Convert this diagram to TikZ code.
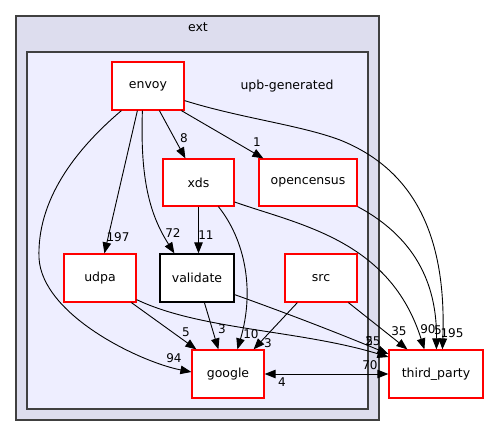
\documentclass[tikz,border=0pt]{standalone}
\usepackage{fontspec}
\setmainfont{DejaVu Sans}
\usetikzlibrary{arrows.meta,calc}
\definecolor{outerfill}{HTML}{DDDDEE}
\definecolor{innerfill}{HTML}{EEEEFF}
\definecolor{clusterline}{HTML}{404040}
\definecolor{nodered}{HTML}{FF0000}
\begin{document}
\begin{tikzpicture}[x=1pt,y=-1pt,
  cluster/.style={draw=clusterline,line width=1.3pt},
  dirbox/.style={draw=nodered,fill=white,line width=1.2pt,inner sep=0pt,minimum width=72pt,minimum height=48pt,font=\fontsize{12.5}{15}\selectfont},
  plainbox/.style={dirbox,draw=black},
  title/.style={inner sep=0pt,font=\fontsize{12.5}{15}\selectfont},
  lbl/.style={inner sep=0pt,font=\fontsize{12}{14}\selectfont},
  edge/.style={draw=black,line width=0.9pt,-{Triangle[length=11pt,width=8.5pt]}},
  biedge/.style={draw=black,line width=0.9pt,{Triangle[length=11pt,width=8.5pt]}-{Triangle[length=11pt,width=8.5pt]}}]
\useasboundingbox (0,0) rectangle (488,436);
\draw[cluster,fill=outerfill] (16,16) rectangle (379,420);
\draw[cluster,fill=innerfill] (27,52) rectangle (368,409);
\node[title] (extlbl) at (198,27) {ext};
\node[title] (upblbl) at (287,86) {upb-generated};

\node[dirbox] (envoy) at (148,86) {envoy};
\node[dirbox,minimum width=71pt,minimum height=47pt] (xds) at (198.5,182.5) {xds};
\node[dirbox,minimum width=98pt,minimum height=47pt] (opencensus) at (308,182.5) {opencensus};
\node[dirbox] (udpa) at (100,278) {udpa};
\node[plainbox,minimum width=74pt] (validate) at (197,278) {validate};
\node[dirbox] (src) at (321,278) {src};
\node[dirbox] (google) at (228,374) {google};
\node[dirbox,minimum width=94pt] (third) at (436,374) {third\_party};

% envoy edges
\draw[edge] ($(envoy.south west)+(48,0)$) -- ($(xds.north west)+(23,0)$);
\draw[edge] ($(envoy.south west)+(70,0)$) -- ($(opencensus.north west)+(5,0)$);
\draw[edge] ($(envoy.south east)+(0,-10)$) .. controls (240,118) and (300,125) .. (340,140)
  .. controls (410,168) and (447,230) .. ($(third.north west)+(54,0)$);
\draw[edge] ($(envoy.south west)+(10,0)$) .. controls (75,150) and (37,200) .. (39,258)
  .. controls (42,315) and (140,362) .. ($(google.west)+(0,-2)$);
\draw[edge] ($(envoy.south west)+(26,0)$) -- ($(udpa.north west)+(41,0)$);
\draw[edge] ($(envoy.south west)+(31,0)$) .. controls (140,180) and (150,215) .. ($(validate.north west)+(15,0)$);

% xds edges
\draw[edge] (xds.south) -- (xds.south |- validate.north);
\draw[edge] ($(xds.south west)+(56,0)$) .. controls (245,240) and (255,290) .. ($(google.north west)+(46,0)$);
\draw[edge] ($(xds.east)+(0,19.5)$) .. controls (300,225) and (390,240) .. ($(third.north west)+(36,0)$);

% opencensus
\draw[edge] (opencensus.south east) .. controls (420,240) and (437,290) .. ($(third.north west)+(48,0)$);

% udpa
\draw[edge] ($(udpa.south east)+(0,-3)$) .. controls (200,330) and (300,330) .. ($(third.west)+(0,-17)$);
\draw[edge] ($(udpa.south west)+(68,0)$) -- ($(google.north west)+(5,0)$);

% validate
\draw[edge] ($(validate.south east)+(0,-8)$) .. controls (300,318) and (350,338) .. ($(third.west)+(0,-20)$);
\draw[edge] ($(validate.south west)+(45,0)$) -- ($(google.north west)+(27,0)$);

% src
\draw[edge] ($(src.south west)+(13,0)$) -- ($(google.north east)+(-11,0)$);
\draw[edge] ($(src.south west)+(64,0)$) -- ($(third.north west)+(19,0)$);

% google <-> third_party
\draw[biedge] (google.east) -- (third.west);

% labels
\node[lbl] (l8) at (184,138) {8};
\node[lbl] (l1) at (257,142) {1};
\node[lbl] (l197) at (118,237) {197};
\node[lbl] (l72) at (173,233) {72};
\node[lbl] (l11) at (206,235) {11};
\node[lbl] (l5a) at (186,332) {5};
\node[lbl] (l3a) at (222,329) {3};
\node[lbl] (l10) at (251,334) {10};
\node[lbl] (l3b) at (268,343) {3};
\node[lbl] (l94) at (174,358) {94};
\node[lbl] (l70) at (370,365) {70};
\node[lbl] (l4) at (282,382) {4};
\node[lbl] (l35) at (399,331) {35};
\node[lbl] (l90) at (428,329) {90};
\node[lbl] (l5b) at (438,330) {5};
\node[lbl] (l195) at (452,333) {195};
\node[lbl] (l25) at (373,341) {25};
\node[lbl] (l5c) at (369.5,341) {5};
\end{tikzpicture}
\end{document}
